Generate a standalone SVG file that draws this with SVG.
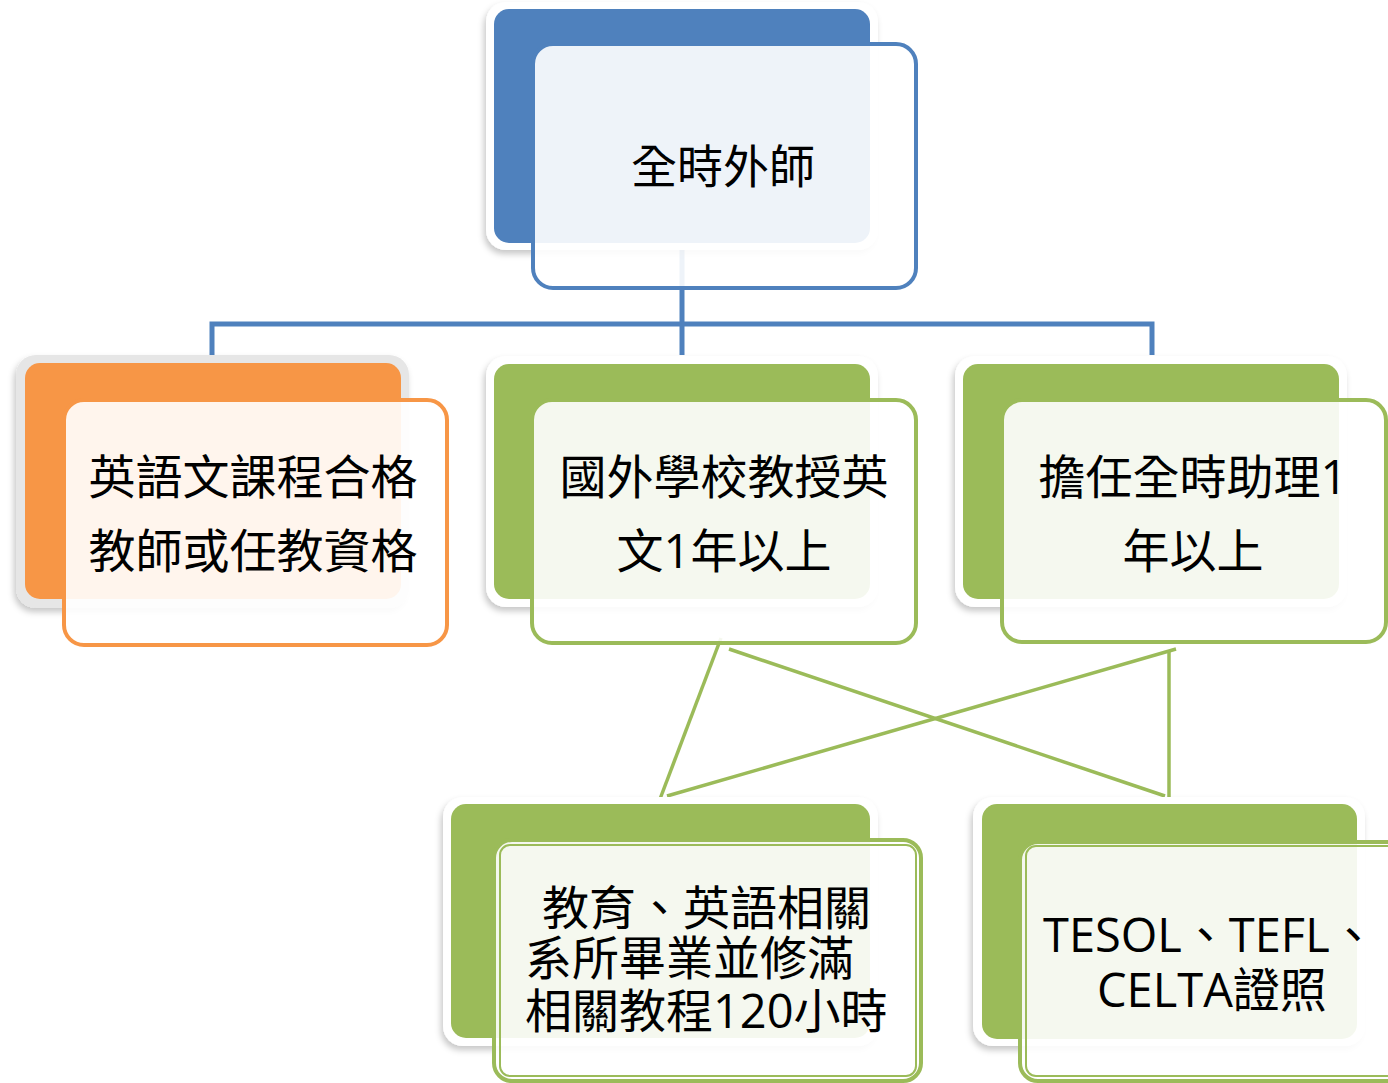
<svg xmlns="http://www.w3.org/2000/svg" width="1388" height="1083" viewBox="0 0 1388 1083">
<defs>
<filter id="sh" x="-10%" y="-10%" width="120%" height="125%">
<feDropShadow dx="-2" dy="4" stdDeviation="3" flood-color="#000" flood-opacity="0.22"/>
</filter>
<style>
.border{fill:#fff;filter:url(#sh)}
.bgray{fill:#e6e6e6;filter:url(#sh)}
.fb{fill:#4f81bd}
.fo{fill:#f79646}
.fg{fill:#9bbb59}
.front{fill:#fff;fill-opacity:0.9;stroke-width:4}
.sb{stroke:#4f81bd}
.so{stroke:#f79646}
.sg{stroke:#9bbb59}
.inner{fill:none;stroke:#9bbb59;stroke-width:2}
text{font-family:"Open Sans","Noto Sans CJK TC",sans-serif;font-size:47px;fill:#000}
.c{text-anchor:middle}
.blue{stroke:#4f81bd;stroke-width:5;fill:none}
.green{stroke:#9bbb59;stroke-width:3.5;fill:none}
</style>
</defs>
<rect width="1388" height="1083" fill="#fff"/>
<g id="connectors">
<path class="blue" d="M682 250V324M212 355V324H1152V355M682 324V355"/>
<line class="green" x1="721" y1="638" x2="660" y2="799"/>
<line class="green" x1="729" y1="649" x2="1165" y2="796"/>
<line class="green" x1="1176" y1="649" x2="667" y2="796"/>
<line class="green" x1="1169" y1="650" x2="1169" y2="800"/>
</g>
<g id="node-top">
<rect class="border" x="486" y="2" width="392" height="248" rx="20"/>
<rect class="fb" x="494" y="9" width="376" height="234" rx="15"/>
<rect class="front sb" x="533" y="44" width="383" height="244" rx="20"/>
<text class="c" x="723" y="183" style="font-size:46px">全時外師</text>
</g>
<g id="node-left">
<rect class="bgray" x="16" y="355" width="393" height="253" rx="20"/>
<rect class="fo" x="25" y="363" width="376" height="236" rx="15"/>
<rect class="front so" x="64" y="400" width="383" height="245" rx="20"/>
<text class="c" x="253" y="494">英語文課程合格</text>
<text class="c" x="253" y="568">教師或任教資格</text>
</g>
<g id="node-mid">
<rect class="border" x="486" y="356" width="392" height="251" rx="20"/>
<rect class="fg" x="494" y="364" width="376" height="235" rx="15"/>
<rect class="front sg" x="532" y="400" width="384" height="243" rx="20"/>
<text class="c" x="724" y="494">國外學校教授英</text>
<text class="c" x="724" y="568">文1年以上</text>
</g>
<g id="node-right">
<rect class="border" x="955" y="356" width="392" height="251" rx="20"/>
<rect class="fg" x="963" y="364" width="376" height="235" rx="15"/>
<rect class="front sg" x="1002" y="400" width="384" height="242" rx="20"/>
<text class="c" x="1193" y="494">擔任全時助理1</text>
<text class="c" x="1193" y="568">年以上</text>
</g>
<g id="node-bottom-left">
<rect class="border" x="443" y="797" width="435" height="249" rx="20"/>
<rect class="fg" x="451" y="804" width="419" height="234" rx="15"/>
<rect class="front sg" x="494" y="840" width="427" height="241" rx="18"/>
<rect class="inner" x="500" y="845" width="416" height="231" rx="10"/>
<text x="542" y="925">教育、英語相關</text>
<text x="525" y="975">系所畢業並修滿</text>
<text x="525" y="1028">相關教程120小時</text>
</g>
<g id="node-bottom-right">
<rect class="border" x="973" y="797" width="392" height="249" rx="20"/>
<rect class="fg" x="982" y="804" width="375" height="235" rx="15"/>
<rect class="front sg" x="1020" y="842" width="400" height="239" rx="18"/>
<rect class="inner" x="1026" y="846" width="390" height="230" rx="10"/>
<text x="1043" y="952">TESOL、TEFL、</text>
<text x="1097" y="1007">CELTA證照</text>
</g>
</svg>
